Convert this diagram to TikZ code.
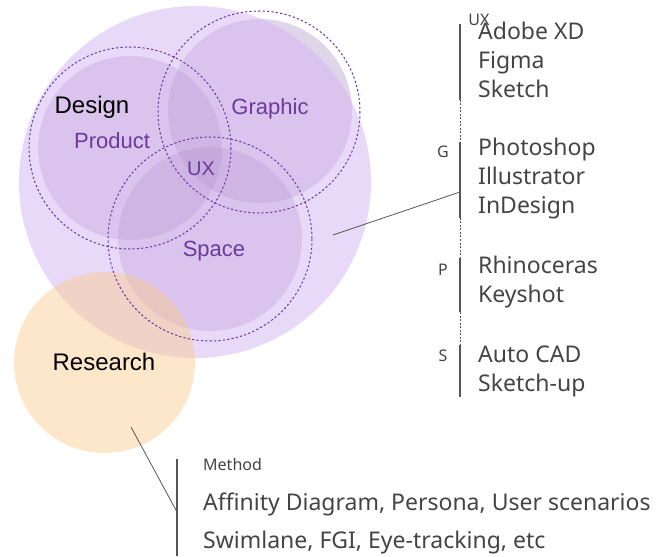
\documentclass[tikz,border=0pt]{standalone}
\usepackage{fontspec}
\setmainfont{Liberation Sans}
\newfontfamily\listfont{Noto Sans}
\definecolor{bigpurple}{HTML}{E9D9F9}
\definecolor{innerc}{HTML}{B48DCD}
\definecolor{greyout}{HTML}{DFD6E9}
\definecolor{researchc}{HTML}{FBCA8B}
\definecolor{purpletext}{HTML}{6B3A9A}
\definecolor{dashc}{HTML}{6A38A6}
\definecolor{listtext}{HTML}{444444}
\definecolor{linec}{HTML}{555555}
\tikzset{
  innerfill/.style={fill=innerc, fill opacity=0.27},
  dashring/.style={draw=dashc, line width=1bp, dash pattern=on 2.2bp off 2.2bp},
  vennlabel/.style={text=purpletext, font=\fontsize{22bp}{26bp}\selectfont, inner sep=0pt},
  mainlabel/.style={text=black, font=\fontsize{24bp}{28bp}\selectfont, inner sep=0pt},
  listitem/.style={text=listtext, font=\listfont\fontsize{23bp}{27bp}\selectfont, inner sep=0pt, anchor=base west},
  tag/.style={text=listtext, font=\listfont\fontsize{16bp}{19bp}\selectfont, inner sep=0pt, anchor=base},
  solidseg/.style={draw=linec, line width=1.2bp},
  dashseg/.style={draw=linec, line width=0.7bp, dash pattern=on 2bp off 1.5bp},
  leader/.style={draw=linec, line width=0.8bp}
}
\begin{document}
\begin{tikzpicture}[x=1bp,y=-1bp]
\useasboundingbox (0,0) rectangle (670,557);
% background circles
\fill[greyout] (260,111) circle (92);
\fill[bigpurple] (195,182) circle (176);
\begin{scope}
  \clip (195,182) circle (176);
  \fill[innerfill] (260,111) circle (92);
\end{scope}
\fill[innerfill] (130,148) circle (92);
\fill[innerfill] (210,239) circle (92);
\fill[researchc, fill opacity=0.45] (104.5,362.5) circle (90.5);
% dashed rings
\draw[dashring] (130,148) circle (101);
\draw[dashring] (259,112) circle (101);
\draw[dashring] (210,239) circle (102);
% venn labels
\node[mainlabel] (design) at (92,107) {Design};
\node[vennlabel] (product) at (112,141) {Product};
\node[vennlabel] (graphic) at (270,109) {Graphic};
\node[vennlabel, font=\fontsize{20bp}{24bp}\selectfont] (ux) at (201,169) {UX};
\node[vennlabel] (space) at (214,251) {Space};
\node[mainlabel] (research) at (104,362) {Research};
% right vertical line
\coordinate (v0) at (460,24);
\coordinate (v1) at (460,100);
\coordinate (v2) at (460,142);
\coordinate (v3) at (460,218);
\coordinate (v4) at (460,258);
\coordinate (v5) at (460,312);
\coordinate (v6) at (460,345);
\coordinate (v7) at (460,397);
\draw[solidseg] (v0) -- (v1);
\draw[dashseg] (v1) -- (v2);
\draw[solidseg] (v2) -- (v3);
\draw[dashseg] (v3) -- (v4);
\draw[solidseg] (v4) -- (v5);
\draw[dashseg] (v5) -- (v6);
\draw[solidseg] (v6) -- (v7);
% leader from venn to list
\coordinate (la) at (333,235);
\coordinate (lb) at (460,192);
\draw[leader] (la) -- (lb);
% tags
\node[tag] (tux) at (479,26) {UX};
\node[tag] (tg) at (443,158) {G};
\node[tag] (tp) at (443,275) {P};
\node[tag] (ts) at (443,361) {S};
% list items
\node[listitem] (xd) at (478,40) {Adobe XD};
\node[listitem] (figma) at (478,69) {Figma};
\node[listitem] (sketch) at (478,98) {Sketch};
\node[listitem] (ps) at (478,156) {Photoshop};
\node[listitem] (ai) at (478,185) {Illustrator};
\node[listitem] (id) at (478,214) {InDesign};
\node[listitem] (rh) at (478,273) {Rhinoceras};
\node[listitem] (ks) at (478,302) {Keyshot};
\node[listitem] (cad) at (478,362) {Auto CAD};
\node[listitem] (su) at (478,391) {Sketch-up};
% research method
\coordinate (m0) at (177,459);
\coordinate (m1) at (177,556);
\draw[solidseg] (m0) -- (m1);
\coordinate (ra) at (131,427);
\coordinate (rb) at (177,512);
\draw[leader] (ra) -- (rb);
\node[listitem, font=\listfont\fontsize{16bp}{19bp}\selectfont] (method) at (203,470) {Method};
\node[listitem] (m1t) at (203,510) {Affinity Diagram, Persona, User scenarios};
\node[listitem] (m2t) at (203,548) {Swimlane, FGI, Eye-tracking, etc};
\end{tikzpicture}
\end{document}
